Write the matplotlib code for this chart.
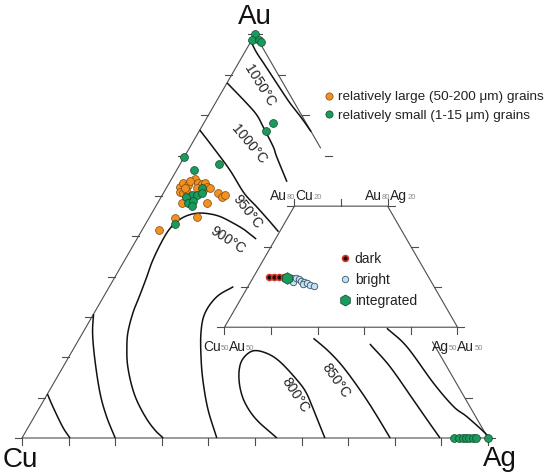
import numpy as np
import matplotlib
matplotlib.use("Agg")
import matplotlib.pyplot as plt
from matplotlib.lines import Line2D

plt.rcParams['font.family'] = ['Liberation Sans', 'DejaVu Sans']

# ---------------- data: compositions in at.% (Au, Ag); Cu = 100 - Au - Ag -------------
large_au = [51.5, 54.4, 54.7, 58.2, 58.3, 60.8, 59.8, 60.2, 62.3, 63.1, 62.7, 64.1,
            63.1, 62.9, 63.1, 62.3, 61.0, 60.6, 61.4, 61.9, 61.4, 63.7, 61.9, 61.9]
large_ag = [3.7, 5.6, 10.2, 10.7, 5.1, 11.7, 13.0, 13.5, 2.8, 3.1, 4.3, 5.1,
            6.3, 7.1, 7.7, 8.5, 3.4, 4.3, 4.6, 6.6, 8.2, 4.2, 4.0, 9.4]

small_au = [100, 98.6, 98.6, 98.2, 78.0, 76.1, 69.7, 67.9, 66.4, 61.9, 60.2, 60.2,
            60.6, 59.8, 58.3, 58.8, 57.5, 53.0, 0, 0, 0, 0, 0, 0, 0, 0]
small_ag = [0, 0, 1.5, 2.2, 14.8, 14.3, 0, 8.4, 3.8, 7.6, 6.3, 7.4,
            8.3, 5.4, 6.5, 7.4, 7.7, 6.3, 92.7, 93.8, 94.7, 95.3, 96.0, 96.7, 97.4, 100]

dark_au = [62.4, 62.4, 62.4, 62.4]
dark_ag = [3.4, 4.4, 5.6, 6.5]
bright_au = [62.3, 61.3, 62.1, 61.9, 61.4, 61.1, 60.6, 60.9, 60.5, 60.3]
bright_ag = [8.3, 9.1, 9.4, 10.1, 10.8, 11.5, 11.6, 12.2, 13.0, 14.1]
integ_au = [62.1]
integ_ag = [7.3]

# isotherms (Au, Ag at.%)
iso1050_au = [97.8, 95.4, 92.7, 89.7, 86.7, 83.0, 79.5, 75.9]
iso1050_ag = [0.4, 2.7, 5.6, 8.8, 12.0, 16.0, 20.1, 24.1]
iso1000_au = [88.0, 82.9, 80.0, 77.1, 72.2, 69.7, 63.5]
iso1000_ag = [0.0, 6.8, 10.4, 13.2, 17.8, 19.8, 25.1]
iso950_au = [76.3, 72.1, 66.4, 60.7, 57.3, 54.0, 51.1]
iso950_ag = [0.0, 4.9, 11.4, 17.3, 21.7, 25.9, 29.5]
iso900_au = [49.3, 51.5, 53.3, 54.9, 55.6, 55.7, 55.0, 53.6, 51.3, 47.8, 43.6, 40.0,
             35.4, 31.0, 26.0, 21.8, 18.1, 13.6, 9.4, 5.0, 2.0, 0.0]
iso900_ag = [25.6, 22.1, 18.6, 15.0, 12.1, 9.7, 7.7, 6.4, 5.7, 5.7, 6.1, 6.8,
             7.6, 8.3, 9.7, 11.6, 13.6, 16.6, 19.9, 24.1, 27.5, 30.3]
isoA_au = [10.9, 7.7, 2.7, 0.0]
isoA_ag = [0.0, 2.8, 7.4, 10.3]
isoB_au = [30.7, 25.9, 19.3, 11.1, 5.3, 0.0]
isoB_ag = [0.0, 2.2, 6.0, 11.2, 15.5, 20.0]
isoC_au = [37.5, 35.0, 30.9, 26.0, 19.3, 13.6, 6.9, 0.0]
isoC_ag = [26.6, 24.3, 23.8, 25.4, 28.8, 32.1, 36.5, 41.8]
iso800_au = [0.0, 4.5, 8.6, 12.7, 16.8, 19.7, 21.6, 21.0, 18.9, 14.4, 11.1, 6.1, 0.0]
iso800_ag = [54.7, 48.1, 43.6, 40.4, 38.2, 37.6, 38.8, 42.0, 45.9, 51.8, 55.5, 59.8, 65.0]
iso850_au = [24.7, 21.8, 18.5, 14.4, 9.4, 5.0, 0.0]
iso850_ag = [50.2, 54.6, 59.0, 63.8, 69.3, 73.9, 79.0]
isoD_au = [23.3, 17.7, 9.4, 4.5, 0.0]
isoD_ag = [63.0, 70.1, 79.3, 84.7, 89.7]
isoE_au = [27.2, 22.6, 13.6, 7.8, 5.3, 1.2, 0.0]
isoE_ag = [64.7, 71.3, 81.5, 88.7, 92.8, 98.8, 100.0]

tick_fracs = [0, 10, 20, 30, 40, 50, 60, 70, 80, 90, 100]
right_ticks_au = [0, 10, 70, 80, 90, 100]
right_edge_gap_au = (71.9, 23.8)
inset_au_range = (50, 80)

# ---------------- geometry -----------------
SQ = np.sqrt(3) / 2
SCALE = 466.0
INSET_OFF = np.array([86 / SCALE, -91 / SCALE])
TICK = 7 / SCALE
EDGE_C = '#4d4d4d'
TXT = '#222222'


def tern(au, ag):
    au = np.asarray(au, float) / 100
    ag = np.asarray(ag, float) / 100
    return ag + au / 2, au * SQ


def P(px, py):
    return (px - 22) / SCALE, (438 - py) / SCALE


def smooth(x, y, n=12):
    x = np.asarray(x); y = np.asarray(y)
    if len(x) < 3:
        return x, y
    pts = np.column_stack([x, y])
    pts = np.vstack([2 * pts[0] - pts[1], pts, 2 * pts[-1] - pts[-2]])
    out = []
    for i in range(1, len(pts) - 2):
        p0, p1, p2, p3 = pts[i - 1], pts[i], pts[i + 1], pts[i + 2]
        for t in np.linspace(0, 1, n, endpoint=False):
            t2, t3 = t * t, t * t * t
            out.append(0.5 * ((2 * p1) + (-p0 + p2) * t + (2 * p0 - 5 * p1 + 4 * p2 - p3) * t2
                              + (-p0 + 3 * p1 - 3 * p2 + p3) * t3))
    out.append(pts[-2])
    out = np.array(out)
    return out[:, 0], out[:, 1]


fig = plt.figure(figsize=(5.5, 4.75), dpi=100)
ax = fig.add_axes([0, 0, 1, 1])
ax.set_xlim(-22 / SCALE, 528 / SCALE)
ax.set_ylim(-37 / SCALE, 438 / SCALE)
ax.axis('off')

# main triangle edges
ex, ey = tern([100, 0, 0], [0, 0, 100])
ax.plot(ex, ey, color=EDGE_C, lw=0.8, zorder=2)
for a0, a1 in [(100, right_edge_gap_au[0]), (right_edge_gap_au[1], 0)]:
    x, y = tern([a0, a1], [100 - a0, 100 - a1])
    ax.plot(x, y, color=EDGE_C, lw=0.8, zorder=2)

# main ticks
for f in tick_fracs:
    x, y = tern(0, f)
    ax.plot([x, x], [y, y - TICK], color=EDGE_C, lw=0.8)
    x, y = tern(f, 0)
    ax.plot([x, x - TICK], [y, y], color=EDGE_C, lw=0.8)
for f in right_ticks_au:
    x, y = tern(f, 100 - f)
    ax.plot([x, x + TICK], [y, y], color=EDGE_C, lw=0.8)

# isotherms
for au, ag in [(iso1050_au, iso1050_ag), (iso1000_au, iso1000_ag), (iso950_au, iso950_ag),
               (iso900_au, iso900_ag), (isoA_au, isoA_ag), (isoB_au, isoB_ag),
               (isoC_au, isoC_ag), (iso800_au, iso800_ag), (iso850_au, iso850_ag),
               (isoD_au, isoD_ag), (isoE_au, isoE_ag)]:
    x, y = smooth(*tern(au, ag))
    ax.plot(x, y, color='#111111', lw=1.1, zorder=3, solid_capstyle='butt')

# isotherm labels
for txt, (px, py), rot in [('1050°C', (260, 86), -58), ('1000°C', (249, 144), -50),
                           ('950°C', (247.5, 212), -52), ('900°C', (228, 240), -33),
                           ('800°C', (295, 395), -57), ('850°C', (336, 381), -55)]:
    ax.text(*P(px, py), txt, rotation=rot, rotation_mode='anchor', ha='center', va='center',
            fontsize=10, color=TXT, zorder=4)

# vertex labels
for txt, (px, py) in [('Au', (255, 24)), ('Cu', (20, 467)), ('Ag', (500, 466))]:
    ax.text(*P(px, py), txt, ha='center', va='baseline', fontsize=20, color='#111111')

ORANGE = '#f39020'
ORANGE_E = '#7a4a12'
GREEN = '#1a9a5c'
GREEN_E = '#0b4a2a'

x, y = tern(large_au, large_ag)
ax.scatter(x, y, s=32, c=ORANGE, edgecolors=ORANGE_E, linewidths=0.5, zorder=5)
x, y = tern(small_au, small_ag)
ax.scatter(x, y, s=32, c=GREEN, edgecolors=GREEN_E, linewidths=0.5, zorder=6)

# ---------------- inset (Au80 - Au50 slice, shifted copy) -----------------
a_lo, a_hi = inset_au_range
cx, cy = tern([a_hi, a_lo, a_lo, a_hi, a_hi], [0, 0, 100 - a_lo, 100 - a_hi, 0])
cx = cx + INSET_OFF[0]; cy = cy + INSET_OFF[1]
ax.fill(cx, cy, color='white', zorder=6.5)
ax.plot(cx, cy, color=EDGE_C, lw=0.8, zorder=7)

def tern_in(au, ag):
    x, y = tern(au, ag)
    return x + INSET_OFF[0], y + INSET_OFF[1]

for f in range(0, 100 - a_lo + 1, 10):
    x, y = tern_in(a_lo, f)
    ax.plot([x, x], [y, y - TICK], color=EDGE_C, lw=0.8, zorder=7)
for a in range(a_lo, a_hi + 1, 10):
    x, y = tern_in(a, 0)
    ax.plot([x, x - TICK], [y, y], color=EDGE_C, lw=0.8, zorder=7)
    x, y = tern_in(a, 100 - a)
    ax.plot([x, x + TICK], [y, y], color=EDGE_C, lw=0.8, zorder=7)
for f in range(0, 100 - a_hi + 1, 10):
    x, y = tern_in(a_hi, f)
    ax.plot([x, x], [y, y + TICK], color=EDGE_C, lw=0.8, zorder=7)

x, y = tern_in(dark_au, dark_ag)
ax.scatter(x, y, s=18, c='#1e0808', edgecolors='#d23a2a', linewidths=1.2, zorder=8)
x, y = tern_in(bright_au, bright_ag)
ax.scatter(x, y, s=22, c='#bfe2f4', edgecolors='#3d5566', linewidths=0.6, zorder=8)
x, y = tern_in(integ_au, integ_ag)
ax.scatter(x, y, s=70, marker='h', c=GREEN, edgecolors=GREEN_E, linewidths=0.5, zorder=9)


def chem(px, py, parts):
    t0 = ax.text(*P(px, py), parts[0], fontsize=10, color=TXT, ha='left', va='bottom', zorder=9)
    prev = t0
    for i, s in enumerate(parts[1:]):
        sub = (i % 2 == 0)
        prev = ax.annotate(s, xy=(1, 0), xycoords=(prev, t0), va='bottom', ha='left',
                           fontsize=5.5 if sub else 10, color='#8a8a8a' if sub else TXT,
                           xytext=(0, 1.3 if sub else 0), textcoords='offset points', zorder=9)

chem(270, 203, ['Au', '80', 'Cu', '20'])
chem(365, 203, ['Au', '80', 'Ag', '20'])
chem(203, 354, ['Cu', '50', 'Au', '50'])
chem(432, 354, ['Ag', '50', 'Au', '50'])

# legends
h1 = [Line2D([], [], ls='', marker='o', ms=5.2, mfc=ORANGE, mec=ORANGE_E, mew=0.5),
      Line2D([], [], ls='', marker='o', ms=5.2, mfc=GREEN, mec=GREEN_E, mew=0.5)]
leg1 = ax.legend(h1, ['relatively large (50-200 μm) grains', 'relatively small (1-15 μm) grains'],
                 loc='upper left', bbox_to_anchor=(323.5 / 550, 1 - 91 / 475), frameon=False,
                 fontsize=9.7, handlelength=0.8, handletextpad=0.3, labelspacing=0.42,
                 borderpad=0, borderaxespad=0)
for t in leg1.get_texts():
    t.set_color(TXT)
ax.add_artist(leg1)

h2 = [Line2D([], [], ls='', marker='o', ms=4.2, mfc='#1e0808', mec='#d23a2a', mew=1.2),
      Line2D([], [], ls='', marker='o', ms=4.6, mfc='#bfe2f4', mec='#3d5566', mew=0.6),
      Line2D([], [], ls='', marker='h', ms=8, mfc=GREEN, mec=GREEN_E, mew=0.5)]
leg2 = ax.legend(h2, ['dark', 'bright', 'integrated'], loc='upper left',
                 bbox_to_anchor=(339.5 / 550, 1 - 252 / 475), frameon=False,
                 fontsize=10, handlelength=0.8, handletextpad=0.3, labelspacing=0.5,
                 borderpad=0, borderaxespad=0)
for t in leg2.get_texts():
    t.set_color(TXT)
leg2.set_zorder(10)

fig.savefig('out.png', dpi=100)
